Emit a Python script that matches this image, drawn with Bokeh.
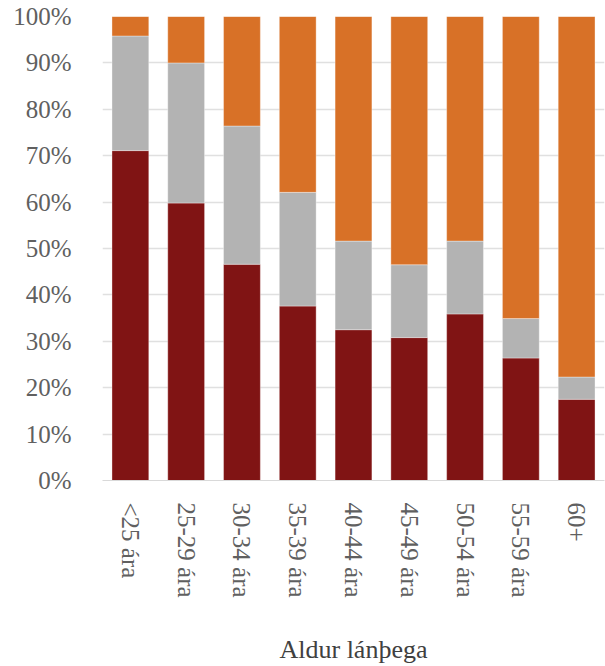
import math
from bokeh.plotting import figure
from bokeh.models import Range1d, NumeralTickFormatter, FactorRange
from bokeh.embed import file_html
from bokeh.resources import INLINE

categories = ["<25 ára", "25-29 ára", "30-34 ára", "35-39 ára", "40-44 ára",
              "45-49 ára", "50-54 ára", "55-59 ára", "60+"]
red_vals = [71.1, 59.8, 46.6, 37.6, 32.5, 30.8, 35.9, 26.4, 17.5]
gray_vals = [24.7, 30.2, 29.8, 24.5, 19.1, 15.7, 15.7, 8.5, 4.8]
orange_vals = [4.2, 10.0, 23.6, 37.9, 48.4, 53.5, 48.4, 65.1, 77.7]
y_ticks = [i / 10 for i in range(11)]

data = {
    "cat": categories,
    "red": [v / 100 for v in red_vals],
    "gray": [v / 100 for v in gray_vals],
    "orange": [v / 100 for v in orange_vals],
}

p = figure(width=605, height=666, x_range=FactorRange(*categories),
           y_range=Range1d(0, 1), output_backend="svg", toolbar_location=None,
           min_border_left=102, min_border_right=1, min_border_top=16,
           min_border_bottom=186)
p.outline_line_color = None

p.vbar_stack(["red", "gray", "orange"], x="cat", width=0.66, source=data,
             color=["#801414", "#b3b3b3", "#d87127"],
             line_color="white", line_alpha=0.35, line_width=1)

font = "'Liberation Serif', 'DejaVu Serif', serif"
p.yaxis.ticker = y_ticks
p.yaxis.formatter = NumeralTickFormatter(format="0%")
p.yaxis.axis_line_color = None
p.yaxis.major_tick_line_color = None
p.yaxis.minor_tick_line_color = None
p.yaxis.major_label_text_font = font
p.yaxis.major_label_text_font_size = "25px"
p.yaxis.major_label_text_color = "#606060"
p.yaxis.major_label_standoff = 25

p.xaxis.axis_line_color = "#d9d9d9"
p.xaxis.major_tick_line_color = None
p.xaxis.minor_tick_line_color = None
p.xaxis.major_label_orientation = -math.pi / 2
p.xaxis.major_label_text_font = font
p.xaxis.major_label_text_font_size = "25px"
p.xaxis.major_label_text_color = "#606060"
p.xaxis.major_label_standoff = 16
p.xaxis.axis_label = "Aldur lánþega"
p.xaxis.axis_label_text_font = font
p.xaxis.axis_label_text_font_size = "26px"
p.xaxis.axis_label_text_font_style = "normal"
p.xaxis.axis_label_text_color = "#404040"
p.xaxis.axis_label_standoff = 34

p.xgrid.grid_line_color = None
p.ygrid.grid_line_color = "#e0e0e0"
p.ygrid.grid_line_width = 1.5

open("out.html", "w").write(file_html(p, INLINE))
